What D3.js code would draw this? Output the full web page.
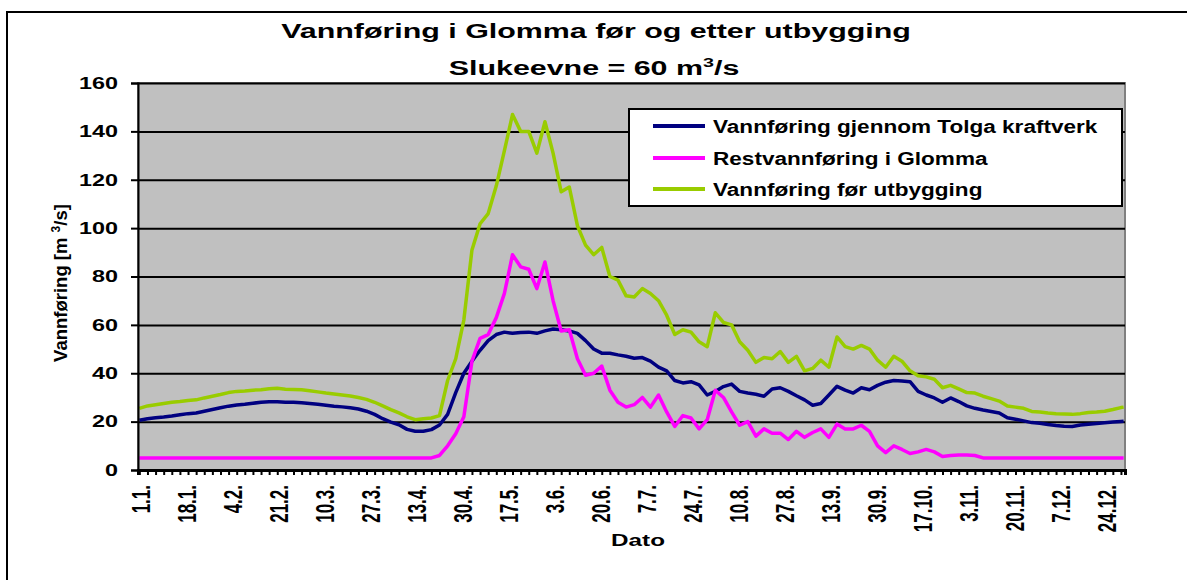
<!DOCTYPE html>
<html>
<head>
<meta charset="utf-8">
<script src="https://cdn.jsdelivr.net/npm/d3@7"></script>
<style>
  body { margin: 0; background: #fff; }
  text { font-family: "Liberation Sans", Arial, sans-serif; font-weight: bold; fill: #000; }
</style>
</head>
<body>
<svg id="chart" width="1187" height="580"></svg>
<script>
// Dager i året (0 = 1.1.) og datoetiketter på x-aksen
const etikettDager = [0, 17, 34, 51, 68, 85, 102, 119, 136, 153, 170, 187, 204, 221, 238, 255, 272, 289, 306, 323, 340, 357];
const etiketter = ["1.1.", "18.1.", "4.2.", "21.2.", "10.3.", "27.3.", "13.4.", "30.4.", "17.5.", "3.6.", "20.6.",
  "7.7.", "24.7.", "10.8.", "27.8.", "13.9.", "30.9.", "17.10.", "3.11.", "20.11.", "7.12.", "24.12."];
const yTicks = [0, 20, 40, 60, 80, 100, 120, 140, 160];

// Avlest hver 3. dag (siste punkt dag 364)
const dager = d3.range(0, 364, 3).concat([364]);

const tolga = [20.6,21.2,21.6,21.9,22.3,22.8,23.3,23.6,24.3,25,
  25.7,26.4,26.9,27.2,27.6,28,28.2,28.2,28,28,
  27.8,27.5,27.2,26.8,26.4,26.1,25.7,25.2,24.3,23,
  21.2,19.8,18.7,16.8,16,16,16.7,18.6,23,32,
  40,45,49.5,53.5,56,57,56.5,56.8,57,56.5,
  57.5,58.3,58,57.5,56.5,53.5,50,48.3,48.3,47.6,
  47,46.2,46.5,45,42.5,41,37,36,36.5,35.2,
  31,32.5,34.5,35.5,32.5,31.8,31.3,30.5,33.5,34,
  32.5,30.7,29,26.8,27.5,31,34.6,33,31.8,34,
  33.2,35,36.3,37,36.8,36.5,32.5,31,29.8,28,
  29.8,28.3,26.5,25.5,24.8,24.2,23.6,21.6,21,20.3,
  19.6,19.3,18.8,18.4,18.1,18,18.6,18.9,19.2,19.5,
  19.8,20.1,20.2];

const rest = [5,5,5,5,5,5,5,5,5,5,
  5,5,5,5,5,5,5,5,5,5,
  5,5,5,5,5,5,5,5,5,5,
  5,5,5,5,5,5,5,6,10,15,
  22,45,54.4,56,63,73,89,84,83,75,
  86,70,57.5,58,46,39.2,40,43,33,28,
  26,27,30,26,31,24,18,22.5,21.5,17,
  20.8,33,30,24,18.5,20,14,17,15.2,15.2,
  12.6,16,13.5,15.5,17,13.5,19,17,17,18.5,
  16,10,7.2,10,8.5,6.8,7.5,8.5,7.5,5.6,
  6,6.2,6.2,6,5,5,5,5,5,5,
  5,5,5,5,5,5,5,5,5,5,
  5,5,5];

const foer = [25.5,26.5,27,27.5,28,28.3,28.7,29,29.8,30.5,
  31.2,32,32.5,32.7,33,33.2,33.6,33.8,33.4,33.3,
  33.2,32.8,32.3,31.8,31.4,31,30.6,30,29.2,28,
  26.5,25,23.6,22,20.8,21.2,21.5,22.5,37,46,
  62,91,101.8,106,117.5,132,147,140,140,131,
  144,131,115,117,101,93,89,92,80,78.5,
  72,71.5,75,73,70,64,56,58,57,53,
  51,65,61,60,53,49.5,44.5,46.5,46,49,
  44.5,47,41,42,45.4,42.5,55,51,50,51.5,
  50,45.4,42.5,47,45,41,39,38.5,37.5,34,
  35,33.5,32,31.8,30.5,29.5,28.5,26.5,26,25.5,
  24.2,24,23.6,23.3,23.2,23,23.3,23.8,24,24.3,
  25,25.8,26];

const serier = [
  { navn: "Vannføring gjennom Tolga kraftverk", farge: "#000080", verdier: tolga },
  { navn: "Restvannføring i Glomma", farge: "#ff00ff", verdier: rest },
  { navn: "Vannføring før utbygging", farge: "#99cc00", verdier: foer }
];

const plot = { l: 138, t: 83, r: 1125, b: 470 };
const svg = d3.select("#chart");

// tekst med horisontal strekking (bildet er strukket i bredden)
function tekst(g, x, y, s, size, sx, anchor, rot) {
  return g.append("text")
    .attr("transform", `translate(${x},${y}) scale(${sx},1)` + (rot ? ` rotate(${rot})` : ""))
    .attr("text-anchor", anchor)
    .style("font-size", size + "px")
    .text(s);
}

// ytre ramme
svg.append("rect").attr("x", 7).attr("y", 12).attr("width", 1200).attr("height", 600)
  .attr("fill", "#fff").attr("stroke", "#000").attr("stroke-width", 2);

const alleDager = d3.range(365);
const x = d3.scalePoint().domain(alleDager).range([plot.l, plot.r]).padding(0.5);
const y = d3.scaleLinear().domain([0, 160]).range([plot.b, plot.t]);

// plotteområde
svg.append("rect").attr("x", plot.l).attr("y", plot.t)
  .attr("width", plot.r - plot.l).attr("height", plot.b - plot.t)
  .attr("fill", "#c0c0c0").attr("stroke", "#808080").attr("stroke-width", 2);

// rutenett
svg.append("g").attr("transform", `translate(${plot.l},0)`)
  .call(d3.axisLeft(y).tickValues(yTicks.slice(1)).tickSize(-(plot.r - plot.l)).tickFormat(""))
  .call(g => g.select(".domain").remove())
  .selectAll("line").attr("stroke", "#000").attr("stroke-width", 2);

// linjer
const linje = d3.line()
  .x((d, i) => x(dager[i]))
  .y(d => y(d));

serier.forEach(s => {
  svg.append("path")
    .datum(s.verdier)
    .attr("d", linje)
    .attr("fill", "none")
    .attr("stroke", s.farge)
    .attr("stroke-width", 3.5)
    .attr("stroke-linejoin", "round");
});

// y-akse
const yAkse = svg.append("g").attr("transform", `translate(${plot.l},0)`)
  .call(d3.axisLeft(y).tickValues(yTicks).tickSize(7).tickFormat(""));
yAkse.select(".domain").attr("stroke", "#000").attr("stroke-width", 2);
yAkse.selectAll("line").attr("stroke", "#000").attr("stroke-width", 2);
yTicks.forEach(v => {
  tekst(svg, 118, y(v), v, 16, 1.46, "end").attr("dy", "0.36em");
});

// x-akse
const xAkse = svg.append("g").attr("transform", `translate(0,${plot.b})`)
  .call(d3.axisBottom(x).tickValues(d3.range(0, 365, 3)).tickSize(5).tickFormat(""));
xAkse.select(".domain").attr("stroke", "#000").attr("stroke-width", 3);
xAkse.selectAll("line").attr("stroke", "#000").attr("stroke-width", 2);
etikettDager.forEach((d, i) => {
  tekst(svg, x(d) + 2, 485, etiketter[i], 17, 1.47, "end", -90).attr("dy", "0.36em");
});

// akseltitler
tekst(svg, 638, 546, "Dato", 16.5, 1.47, "middle");
const yTittel = svg.append("text")
  .attr("transform", "translate(60,283) rotate(-90)")
  .attr("text-anchor", "middle").attr("dy", "0.36em")
  .style("font-size", "18.5px");
yTittel.append("tspan").text("Vannføring [m ");
yTittel.append("tspan").text("3").style("font-size", "12px").attr("dy", "-7");
yTittel.append("tspan").text("/s]").attr("dy", "7");

// tittel
tekst(svg, 596, 38, "Vannføring i Glomma før og etter utbygging", 20, 1.52, "middle");
const t2 = tekst(svg, 594, 75, "", 20, 1.52, "middle");
t2.append("tspan").text("Slukeevne = 60 m");
t2.append("tspan").text("3").style("font-size", "13px").attr("dy", "-8");
t2.append("tspan").text("/s").attr("dy", "8");

// tegnforklaring
const leg = svg.append("g");
leg.append("rect").attr("x", 629).attr("y", 109).attr("width", 493).attr("height", 97)
  .attr("fill", "#fff").attr("stroke", "#000").attr("stroke-width", 2);
const radY = [126, 158, 189];
serier.forEach((s, i) => {
  leg.append("line").attr("x1", 653).attr("x2", 705).attr("y1", radY[i]).attr("y2", radY[i])
    .attr("stroke", s.farge).attr("stroke-width", 4);
  tekst(leg, 713, radY[i] + 6.6, s.navn, 18.5, 1.22, "start");
});
</script>
</body>
</html>
